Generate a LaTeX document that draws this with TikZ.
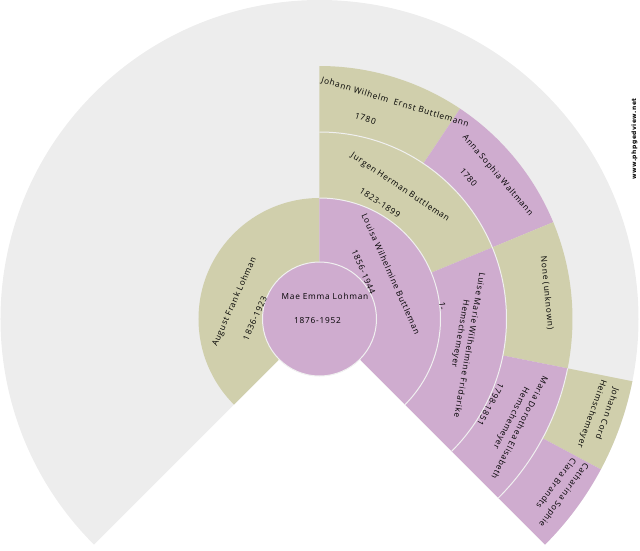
\documentclass[tikz,border=0pt]{standalone}
\usepackage{fontspec}
\setmainfont{Open Sans}[LetterSpace=9]
\newfontfamily\wmfont{DejaVu Sans}[LetterSpace=8]
\definecolor{khaki}{RGB}{208,207,172}
\definecolor{mauve}{RGB}{207,172,207}
\definecolor{pale}{RGB}{237,237,237}
\definecolor{rim}{RGB}{240,240,240}
\tikzset{
  seg/.style={fill=#1,draw=none},
  rimline/.style={draw=rim,line width=1pt},
  lab/.style={font=\fontsize{8.3}{9}\selectfont,inner sep=0pt,text=black},
  wmark/.style={font=\wmfont\bfseries\fontsize{6}{7}\selectfont,inner sep=0pt,text=black}
}
% colour, inner r, outer r, start and end angle measured clockwise from the top
\newcommand{\wedgeseg}[5]{\fill[seg=#1] ({90-(#4)}:#2) arc[start angle={90-(#4)},end angle={90-(#5)},radius=#2] -- ({90-(#5)}:#3) arc[start angle={90-(#5)},end angle={90-(#4)},radius=#3] -- cycle;}
\newcommand{\rimarc}[3]{\draw[rimline] ({90-(#2)}:#1) arc[start angle={90-(#2)},end angle={90-(#3)},radius=#1];}
% name, x px, y px, rotation, text
\newcommand{\lbl}[5]{\node[lab,rotate=#4] (#1) at ({#2-319.5},{319-#3}) {#5};}
\begin{document}
\begin{tikzpicture}[x=1pt,y=1pt]
\useasboundingbox (-319.5,-231) rectangle (320.5,319);
\wedgeseg{pale}{1}{319}{-135}{135}
\wedgeseg{khaki}{253}{319}{101.25}{118.125}
\wedgeseg{mauve}{253}{319}{118.125}{135}
\wedgeseg{khaki}{187}{253}{0}{33.75}
\wedgeseg{mauve}{187}{253}{33.75}{67.5}
\wedgeseg{khaki}{187}{253}{67.5}{101.25}
\wedgeseg{mauve}{187}{253}{101.25}{135}
\wedgeseg{khaki}{121}{187}{0}{67.5}
\wedgeseg{mauve}{121}{187}{67.5}{135}
\wedgeseg{khaki}{57}{121}{-135}{0}
\wedgeseg{mauve}{57}{121}{0}{135}
\rimarc{253}{101.25}{135}
\rimarc{187}{0}{135}
\rimarc{121}{0}{135}
\fill[white] (0,0) -- (225:58) arc[start angle=225,end angle=315,radius=58] -- cycle;
\fill[mauve] (0,0) circle[radius=57];
\draw[rimline] (0,0) circle[radius=57];
\lbl{a}{325}{296}{0}{Mae Emma Lohman}
\lbl{b}{317.5}{320.5}{0}{1876-1952}
\lbl{c}{234.5}{302}{66}{August Frank Lohman}
\lbl{d}{255}{318.5}{66}{1836-1923}
\lbl{e}{391}{274}{-66}{Louisa Wilhelmine Buttleman}
\lbl{f}{363.5}{272}{-66}{1856-1944}
\lbl{g}{400}{187.5}{-33.75}{Jurgen Herman Buttleman}
\lbl{h}{380}{202.5}{-33.75}{1823-1899}
\lbl{i}{395}{102.5}{-16.875}{Johann Wilhelm\ \ Ernst Buttlemann}
\lbl{j}{365.5}{118.5}{-16.875}{1780}
\lbl{k}{497.5}{175.5}{-49.5}{Anna Sophia Waltmann}
\lbl{l}{468.5}{177.5}{-49.5}{1780}
\lbl{m}{547}{293}{-84.375}{None (unknown)}
\lbl{n}{470}{345}{-100}{Luise Marie Wilhelmine Fridarike}
\lbl{o}{460}{333.5}{-100}{Hemschemeyer}
\lbl{p}{520}{428}{-117}{Maria Dorothea Elisabeth}
\lbl{q}{511}{418}{-117}{Hemschemeyer}
\lbl{r}{490.5}{404.5}{-118.125}{1798-1851}
\lbl{s}{607}{413.5}{-109.7}{Johann Cord}
\lbl{t}{591.5}{413.5}{-109.7}{Heimschemeyer}
\lbl{u}{563.5}{495}{-126.6}{Catharina Sophie}
\lbl{v}{556.5}{483.5}{-126.6}{Clara Brandts}
\lbl{x}{442.5}{306}{-84.4}{1-}
\node[wmark,rotate=90] (w) at (634.5-319.5,319-139) {www.phpgedview.net};
\end{tikzpicture}
\end{document}
